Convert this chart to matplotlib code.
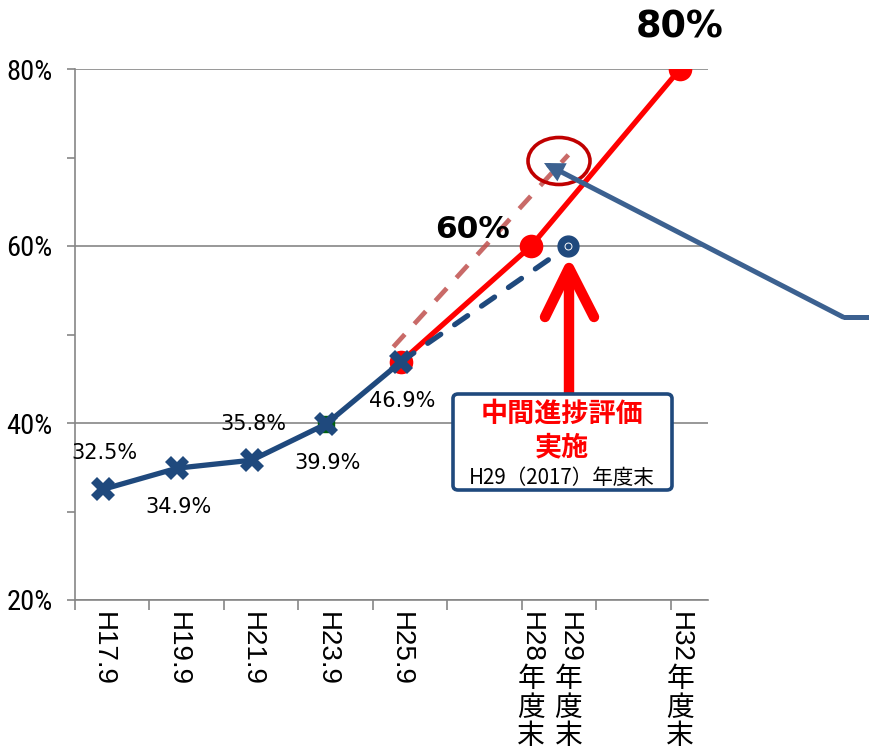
import matplotlib
matplotlib.use('Agg')
import matplotlib.pyplot as plt
from matplotlib.lines import Line2D
from matplotlib.patches import Ellipse, FancyBboxPatch, FancyArrowPatch

# 横軸ラベル（年の位置）
labels = ['H17.9', 'H19.9', 'H21.9', 'H23.9', 'H25.9', 'H28年度末', 'H29年度末', 'H32年度末']
label_x = [17.75, 19.75, 21.75, 23.75, 25.75, 29.25, 30.25, 33.25]

# 実績
actual_x = [17.75, 19.75, 21.75, 23.75, 25.75]
actual = [32.5, 34.9, 35.8, 39.9, 46.9]
actual_txt = ['32.5%', '34.9%', '35.8%', '39.9%', '46.9%']
actual_side = ['up', 'down', 'up', 'down', 'down']

# 目標
target_x = [25.75, 29.25, 33.25]
target = [46.9, 60, 80]
target_txt = ['', '60%', '80%']

# 見込み（青破線）
forecast_x = [25.75, 30.25]
forecast = [46.9, 60]

# 傾向（赤破線）
trend_x = [25.55, 30.25]
trend = [48.6, 70.3]

BLUE = '#1F497D'
RED = '#FF0000'
GREY = '#868686'

W, H = 870, 755
fig = plt.figure(figsize=(W / 100, H / 100), dpi=100)
ax = fig.add_axes([75 / W, 1 - 600 / H, 633 / W, 531 / H])


def fx(px):
    return px / W


def fy(py):
    return 1 - py / H


# 軸まわり
ax.set_xlim(17, 34)
ax.set_ylim(20, 80)
for s in ['top', 'right']:
    ax.spines[s].set_visible(False)
for s in ['left', 'bottom']:
    ax.spines[s].set_color(GREY)
    ax.spines[s].set_linewidth(1.2)

ax.set_yticks([20, 40, 60, 80])
ax.set_yticklabels(['%d%%' % v for v in [20, 40, 60, 80]],
                   family=['Liberation Sans Narrow', 'Roboto Condensed', 'DejaVu Sans'],
                   fontstretch='condensed', fontsize=20.5)
ax.set_yticks([30, 50, 70], minor=True)
ax.tick_params(axis='y', which='both', direction='out', length=6, width=1.2,
               color=GREY, pad=10)
ax.grid(axis='y', which='major', color=GREY, linewidth=1.2)
ax.set_axisbelow(True)

ax.set_xticks(range(17, 34, 2))
ax.set_xticklabels([])
ax.tick_params(axis='x', which='major', direction='out', length=7, width=1.2, color=GREY)
ax.set_xticks(label_x, minor=True)
rot_part = [t.split('年')[0] for t in labels]
ax.set_xticklabels(rot_part, minor=True, rotation=270, fontsize=20,
                   family=['Liberation Sans', 'Noto Sans CJK JP'])
ax.tick_params(axis='x', which='minor', length=0, pad=9)

# 傾向線
ax.plot(trend_x, trend, color='#C0504D', lw=3.4, alpha=0.85,
        dashes=(3.6, 3.0), zorder=3)

# 目標
ax.plot(target_x, target, color=RED, lw=3.8, marker='o', markersize=17,
        markeredgewidth=0, zorder=4, solid_capstyle='round')

# 見込み
ax.plot(forecast_x, forecast, color=BLUE, lw=3.8, dash_capstyle='round',
        dashes=(3.0, 3.2), zorder=5)
ax.plot(forecast_x[-1:], forecast[-1:], 'o', color=BLUE, markersize=15, zorder=6)
ax.plot(forecast_x[-1:], forecast[-1:], 'o', mfc='none', mec='white', mew=0.7,
        markersize=5, zorder=7)

# 実績
ax.plot(actual_x[3:4], actual[3:4], 's', color='#00610F', markersize=12, zorder=5)
ax.plot(actual_x, actual, color=BLUE, lw=3.8, marker='X', markersize=17,
        markeredgewidth=0, zorder=6)

for x, v, t, side in zip(actual_x, actual, actual_txt, actual_side):
    off = 26 if side == 'up' else -28
    ax.annotate(t, (x, v), xytext=(1, off), textcoords='offset points',
                ha='center', va='center', fontsize=15, family='DejaVu Sans')

big_off = {'60%': (-42, 12), '80%': (0, 30)}
big_size = {'60%': 22.5, '80%': 26.5}
for x, v, t in zip(target_x, target, target_txt):
    if t:
        ax.annotate(t, (x, v), xytext=big_off[t], textcoords='offset points',
                    ha='center', va='center', fontsize=big_size[t],
                    fontweight='bold', family='DejaVu Sans')

# 丸印
fig.add_artist(Ellipse((fx(559), fy(161)), 62 / W, 47 / H, transform=fig.transFigure,
                       fill=False, ec='#C00000', lw=2.6, zorder=8))

# 吹き出し線
fig.add_artist(Line2D([fx(843), fx(870)], [fy(317), fy(317)], color='#3C6190', lw=3.6,
                      transform=fig.transFigure, solid_capstyle='butt', zorder=9))
fig.add_artist(FancyArrowPatch((fx(843), fy(317)), (fx(544), fy(163)),
                               transform=fig.transFigure, arrowstyle='-|>',
                               mutation_scale=22, color='#3C6190', lw=3.6,
                               shrinkA=0, shrinkB=0, joinstyle='miter', zorder=9))

# 赤い矢印
arrow_kw = dict(color=RED, lw=7.5, solid_capstyle='round', transform=fig.transFigure, zorder=9)
fig.add_artist(Line2D([fx(569), fx(569)], [fy(396), fy(270)], **arrow_kw))
fig.add_artist(Line2D([fx(545), fx(569), fx(594)], [fy(317), fy(268), fy(317)],
                      solid_joinstyle='round', **arrow_kw))

# 枠
fig.add_artist(FancyBboxPatch((fx(453), fy(490)), 219 / W, 96 / H,
                              boxstyle='round,pad=0,rounding_size=0.006',
                              transform=fig.transFigure, fc='white', ec=BLUE,
                              lw=2.6, zorder=10))
fig.text(fx(562), fy(414), '中間進捗評価', color=RED, fontsize=19.5, fontweight='bold',
         family='Noto Sans CJK JP', ha='center', va='center', zorder=11)
fig.text(fx(562), fy(447), '実施', color=RED, fontsize=19.5, fontweight='bold',
         family='Noto Sans CJK JP', ha='center', va='center', zorder=11)
fig.text(fx(562), fy(478), 'H29（2017）年度末', color='black', fontsize=14.8,
         family='Noto Sans CJK JP', ha='center', va='center', zorder=11)

# 縦書き部分（年度末）
fig.canvas.draw()
renderer = fig.canvas.get_renderer()
for tl, full in zip(ax.get_xticklabels(minor=True), labels):
    if '年' not in full:
        continue
    rest = full[full.index('年'):]
    bb = tl.get_window_extent(renderer)
    cx = (bb.x0 + bb.x1) / 2 / W
    fig.text(cx, (bb.y0 - 1) / H, '\n'.join(rest), fontsize=20, family='Noto Sans CJK JP',
             ha='center', va='top', linespacing=0.93)

fig.savefig('out.png', dpi=100)
